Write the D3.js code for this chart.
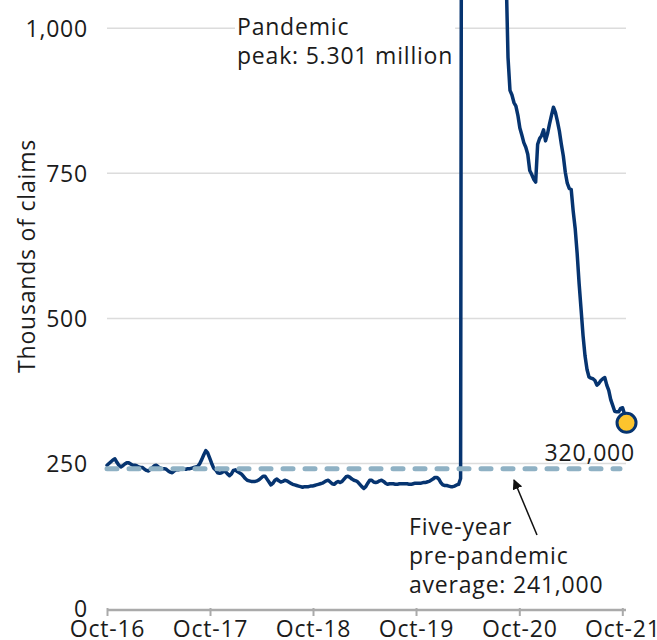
<!DOCTYPE html>
<html>
<head>
<meta charset="utf-8">
<script src="https://cdn.jsdelivr.net/npm/d3@7"></script>
<style>
  html, body { margin: 0; padding: 0; background: #fff; }
  svg { display: block; font-family: "Open Sans", "Noto Sans", sans-serif; }
  svg text { letter-spacing: 0.8px; }
</style>
</head>
<body>
<svg id="chart" width="657" height="640"></svg>
<script>
// ---- DATA (thousands of initial claims, 4-week average, weekly from 1 Oct 2016) ----
const startWeek = "2016-10-01";
const weeklyClaims = [
  247,250,253,256,258,252,247,244,246,249,
  251,251,249,247,247,246,244,243,243,240,
  238,237,240,243,246,247,244,242,241,241,
  240,237,235,234,237,239,239,240,240,240,
  240,241,241,242,243,244,245,250,257,265,
  272,268,259,250,242,239,234,233,234,236,
  236,232,229,232,238,239,236,234,232,228,
  224,221,220,219,219,219,220,222,225,228,
  228,223,218,213,216,221,223,220,218,219,
  221,220,218,216,214,213,212,211,210,209,
  210,210,210,211,211,212,213,214,215,216,
  218,220,221,218,215,214,217,219,217,219,
  223,227,228,226,223,221,220,218,214,210,
  207,210,216,221,221,218,217,218,220,221,
  219,216,214,215,215,215,214,214,215,215,
  215,215,215,214,214,215,216,216,216,216,
  217,217,218,219,221,223,226,226,223,217,
  213,212,212,211,210,210,211,213,214,224,
  2600,4300,5301,5050,4400,3650,3050,2600,2300,2000,
  1800,1620,1520,1450,1400,1370,1350,1330,1300,1250,
  1180,1110,1100,950,893,885,872,866,850,828,
  816,803,795,783,755,748,740,735,800,810,
  815,825,806,818,835,850,864,855,840,823,
  800,780,752,733,724,722,685,655,612,560,
  515,470,435,412,399,397,396,393,385,388,
  393,396,398,385,376,360,350,340,339,339,
  345,346,335,320
];
const yTicks = [0, 250, 500, 750, 1000];
const xTickLabels = ["Oct-16", "Oct-17", "Oct-18", "Oct-19", "Oct-20", "Oct-21"];
const xTickDates = ["2016-10-01", "2017-10-01", "2018-10-01", "2019-10-01", "2020-10-01", "2021-10-01"];
const averageValue = 241;
const latestValue = 320;
const peakText = ["Pandemic", "peak: 5.301 million"];
const avgText = ["Five-year", "pre-pandemic", "average: 241,000"];
const latestText = "320,000";
const yTitle = "Thousands of claims";

// ---- SETUP ----
const parse = d3.utcParse("%Y-%m-%d");
const t0 = parse(startWeek);
const data = weeklyClaims.map((v, i) => ({ date: d3.utcDay.offset(t0, 7 * i), value: v }));

const svg = d3.select("#chart");
const navy = "#063470";
const textColor = "#1b1b1b";
const fs = 23;

const x = d3.scaleUtc()
  .domain([parse(xTickDates[0]), parse(xTickDates[xTickDates.length - 1])])
  .range([107, 622.3]);
const y = d3.scaleLinear().domain([0, 1000]).range([608.5, 28.3]);
const xEnd = 626;

// gridlines
svg.append("g").selectAll("line")
  .data(yTicks.filter(d => d > 0))
  .join("line")
  .attr("x1", 107).attr("x2", xEnd)
  .attr("y1", d => y(d)).attr("y2", d => y(d))
  .attr("stroke", "#dcdcdc").attr("stroke-width", 1.5);

// y axis labels
const yAxis = d3.axisLeft(y).tickValues(yTicks).tickFormat(d3.format(",")).tickSize(0).tickPadding(0);
const gy = svg.append("g").attr("transform", "translate(88,0)").call(yAxis);
gy.select(".domain").remove();
gy.selectAll("text").attr("font-size", fs).attr("fill", textColor).attr("font-family", "Open Sans").attr("dy", "0.36em");

// x axis
const xAxis = d3.axisBottom(x)
  .tickValues(xTickDates.map(parse))
  .tickFormat((d, i) => xTickLabels[i])
  .tickSizeInner(6).tickSizeOuter(0).tickPadding(5);
const gx = svg.append("g").attr("transform", `translate(0,${y(0) + 1.5})`).call(xAxis);
gx.select(".domain").attr("d", `M107,0H${xEnd}`).attr("stroke", "#aaaaaa").attr("stroke-width", 2.5);
gx.selectAll(".tick line").attr("stroke", "#aaaaaa").attr("stroke-width", 2).attr("y1", -2);
gx.selectAll("text").attr("font-size", fs).attr("fill", textColor).attr("font-family", "Open Sans");

// y title
svg.append("text")
  .attr("transform", "translate(35,256) rotate(-90)")
  .attr("text-anchor", "middle")
  .attr("font-size", fs).attr("fill", textColor)
  .text(yTitle);

// main line
const line = d3.line().x(d => x(d.date)).y(d => y(d.value)).curve(d3.curveLinear);
svg.append("path")
  .datum(data)
  .attr("d", line)
  .attr("fill", "none").attr("stroke", navy)
  .attr("stroke-width", 3.5).attr("stroke-linejoin", "round").attr("stroke-linecap", "round");

// average dashed line
svg.append("line")
  .attr("x1", 107).attr("x2", 620)
  .attr("y1", y(averageValue)).attr("y2", y(averageValue))
  .attr("stroke", "#8fb1c4").attr("stroke-width", 5)
  .attr("stroke-dasharray", "10,12").attr("stroke-linecap", "round");

// latest dot
const last = data[data.length - 1];
svg.append("circle")
  .attr("cx", x(last.date)).attr("cy", y(latestValue)).attr("r", 9.5)
  .attr("fill", "#fcc42d").attr("stroke", navy).attr("stroke-width", 3);

svg.append("text")
  .attr("x", 635).attr("y", 461)
  .attr("text-anchor", "end").attr("font-size", fs).attr("fill", textColor)
  .text(latestText);

// peak annotation with white background
const peakG = svg.append("g");
const peakBg = peakG.append("rect").attr("fill", "#fff");
const peakT = peakG.append("text").attr("font-size", fs).attr("fill", textColor);
peakText.forEach((s, i) => peakT.append("tspan").attr("x", 237).attr("y", 35 + i * 28.5).text(s));
const bb = peakT.node().getBBox();
peakBg.attr("x", bb.x - 2).attr("y", bb.y).attr("width", bb.width + 4).attr("height", bb.height);

// average annotation
const avgT = svg.append("text").attr("font-size", fs).attr("fill", textColor);
avgText.forEach((s, i) => avgT.append("tspan").attr("x", 409).attr("y", 535 + i * 29).text(s));

// arrow
svg.append("defs").append("marker")
  .attr("id", "ah").attr("viewBox", "0 0 10 10").attr("refX", 9).attr("refY", 5)
  .attr("markerWidth", 10).attr("markerHeight", 10).attr("markerUnits", "userSpaceOnUse")
  .attr("orient", "auto")
  .append("path").attr("d", "M0,0L10,5L0,10Z").attr("fill", "#111");
svg.append("line")
  .attr("x1", 537).attr("y1", 535).attr("x2", 514).attr("y2", 480)
  .attr("stroke", "#111").attr("stroke-width", 1.5)
  .attr("marker-end", "url(#ah)");
</script>
</body>
</html>
